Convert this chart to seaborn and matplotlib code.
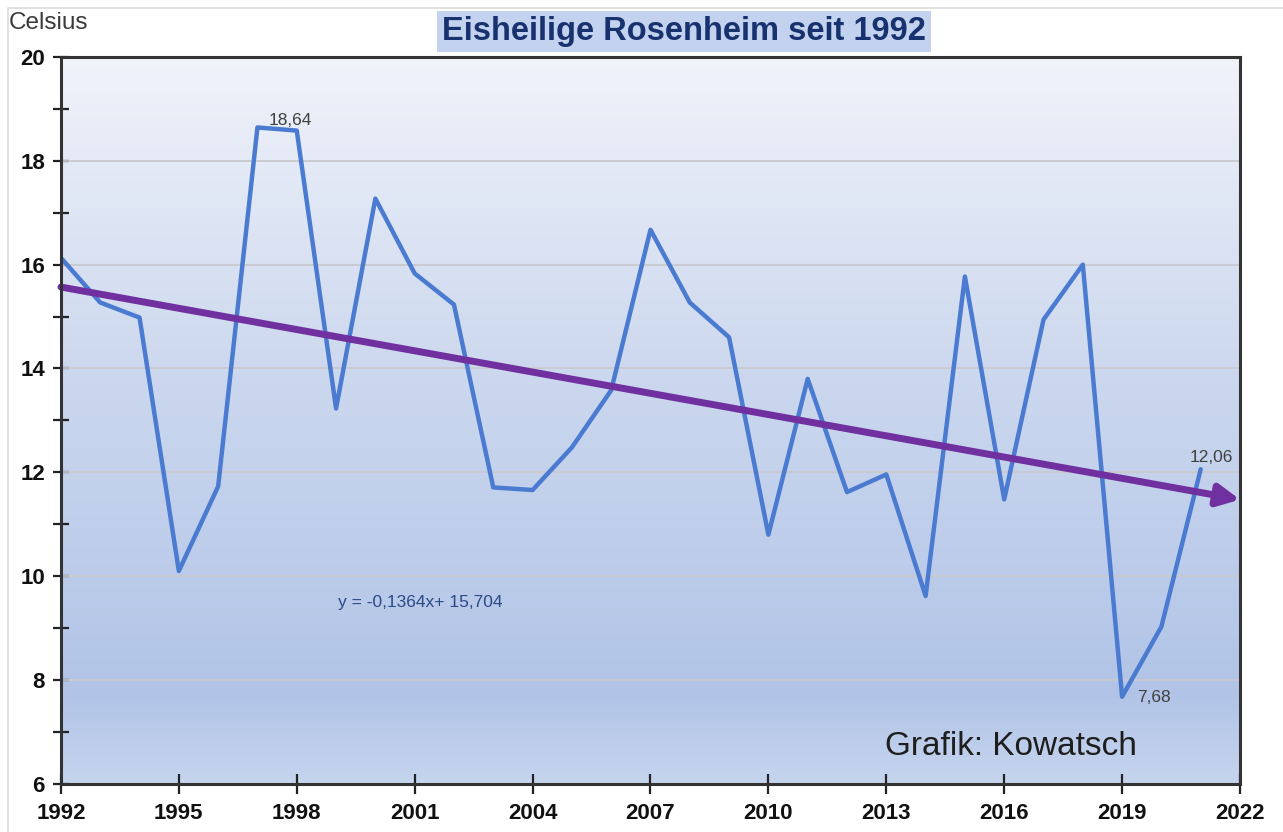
import numpy as np
import pandas as pd
import matplotlib.pyplot as plt
import seaborn as sns
from matplotlib.colors import LinearSegmentedColormap
from matplotlib.patches import Rectangle

years = list(range(1992, 2022))
celsius = [16.13, 15.27, 14.98, 10.10, 11.73, 18.64, 18.58, 13.23, 17.27, 15.83,
           15.23, 11.71, 11.66, 12.48, 13.58, 16.67, 15.27, 14.60, 10.80, 13.80,
           11.62, 11.96, 9.62, 15.77, 11.48, 14.94, 16.00, 7.68, 9.03, 12.06]
trend_slope = -0.1364
trend_intercept = 15.704
trend_end_year = 2022
labelled_years = [1997, 2019, 2021]
x_ticks = list(range(1992, 2023, 3))
y_ticks = list(range(6, 21, 2))

df = pd.DataFrame({"Jahr": years, "Celsius": celsius})

sns.set_style("white")
plt.rcParams['font.family'] = ['Liberation Sans', 'DejaVu Sans']

fig = plt.figure(figsize=(12.83, 8.32), dpi=100)
ax = fig.add_axes([0.0475, 0.0577, 0.919, 0.874])

# Hintergrund-Verlauf
grad = LinearSegmentedColormap.from_list(
    "bg", [(0.0, "#c6d5ee"), (0.12, "#b1c4e7"), (0.55, "#cbd7ee"), (1.0, "#f0f3fa")])
ax.imshow(np.linspace(0, 1, 256).reshape(-1, 1), cmap=grad, aspect="auto",
          origin="lower", extent=[1992, 2022, 6, 20], zorder=0)

for yv in y_ticks[1:-1]:
    ax.axhline(yv, color="#c9c9cf", lw=1.3, zorder=1)

sns.lineplot(data=df, x="Jahr", y="Celsius", ax=ax, color="#4a7bd0", lw=3.2, zorder=3)

# Trendlinie als Pfeil
x0 = years[0]
t_start = trend_slope * 1 + trend_intercept
t_end = trend_slope * (trend_end_year - x0 + 1) + trend_intercept
ax.annotate("", xy=(trend_end_year, t_end), xytext=(x0, t_start),
            arrowprops=dict(arrowstyle="-|>,head_length=1.3,head_width=0.65",
                            color="#7030a0", lw=5, shrinkA=0, shrinkB=0),
            zorder=4)

ax.text(1999.05, 9.5, "y = -0,1364x+ 15,704", color="#2c4a86", fontsize=12.5,
        ha="left", va="center", zorder=5)

offsets = {1997: (0.29, 0.13, "left"), 2019: (0.38, -0.02, "left"), 2021: (0.26, 0.22, "center")}
for yr in labelled_years:
    v = celsius[years.index(yr)]
    dx, dy, ha = offsets[yr]
    ax.text(yr + dx, v + dy, f"{v:.2f}".replace(".", ","), color="#404040",
            fontsize=12.5, ha=ha, va="center", zorder=5)

ax.text(2016.17, 6.73, "Grafik: Kowatsch", fontsize=24, color="#1e1e1e",
        ha="center", va="center", zorder=5)

ax.set_xlim(1992, 2022)
ax.set_ylim(6, 20)
ax.set_xticks(x_ticks)
ax.set_yticks(y_ticks)
ax.set_yticks(range(7, 20, 2), minor=True)
ax.tick_params(axis="both", which="both", direction="inout", color="#222222",
               width=1.6, labelsize=16, labelcolor="#111111", bottom=True, left=True)
ax.tick_params(axis="y", which="both", length=11, pad=6)
ax.tick_params(axis="x", which="major", length=14, pad=7)
for lab in ax.get_xticklabels() + ax.get_yticklabels():
    lab.set_fontweight("bold")
ax.set_xlabel("")
ax.set_ylabel("")
for sp in ax.spines.values():
    sp.set_color("#333333")
    sp.set_linewidth(2.2)
    sp.set_zorder(6)

fig.text(0.007, 0.972, "Celsius", fontsize=17.5, color="#3a3a3a", ha="left", va="center")
fig.text(0.533, 0.962, "Eisheilige Rosenheim seit 1992", fontsize=23.5, fontweight="bold",
         color="#17326e", ha="center", va="center",
         bbox=dict(boxstyle="square,pad=0.16", facecolor="#c3d2ee", edgecolor="none"))

fig.patches.append(Rectangle((0.006, -0.1), 1.2, 1.09, transform=fig.transFigure,
                             fill=False, edgecolor="#dcdcdc", lw=1.2))

fig.savefig("out.png", dpi=100)
